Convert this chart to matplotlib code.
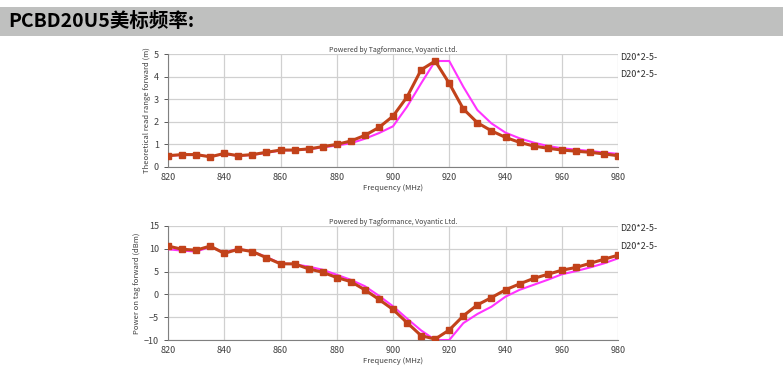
import numpy as np
import matplotlib.pyplot as plt

plt.rcParams['font.family'] = ['Noto Sans CJK SC', 'DejaVu Sans']

# === Data ===
freq = np.arange(820, 981, 5)

range_red = [0.5, 0.55, 0.55, 0.45, 0.6, 0.5, 0.55, 0.65, 0.75, 0.75, 0.8, 0.9, 1.0,
             1.15, 1.4, 1.75, 2.25, 3.1, 4.3, 4.69, 3.7, 2.57, 1.96, 1.6, 1.31, 1.09,
             0.93, 0.83, 0.75, 0.7, 0.65, 0.58, 0.5]
range_mag = [0.5, 0.53, 0.53, 0.47, 0.57, 0.5, 0.53, 0.63, 0.73, 0.75, 0.78, 0.87, 0.95,
             1.05, 1.25, 1.5, 1.8, 2.67, 3.7, 4.69, 4.69, 3.55, 2.52, 1.93, 1.52, 1.27,
             1.08, 0.93, 0.83, 0.77, 0.71, 0.64, 0.58]

power_red = [10.6, 9.9, 9.7, 10.6, 9.0, 9.9, 9.4, 8.05, 6.7, 6.7, 5.6, 4.85, 3.7,
             2.8, 1.0, -1.1, -3.3, -6.2, -9.05, -9.8, -7.8, -4.7, -2.3, -0.7, 1.0,
             2.3, 3.5, 4.4, 5.3, 5.9, 6.8, 7.7, 8.6]
power_mag = [9.9, 9.6, 9.4, 10.4, 9.2, 10.0, 9.4, 8.2, 6.8, 6.6, 6.1, 5.4, 4.3,
             3.2, 1.8, -0.3, -2.6, -5.3, -7.9, -10.0, -10.0, -6.3, -4.3, -2.7, -0.5,
             1.0, 2.1, 3.2, 4.4, 5.1, 5.9, 6.8, 7.9]

series_label = 'D20*2-5-'
credit = 'Powered by Tagformance, Voyantic Ltd.'
title = 'PCBD20U5美标频率:'

RED = '#c2421a'
MAG = '#ff33ff'

fig = plt.figure(figsize=(7.83, 3.91), dpi=100)

# gray title bar
fig.patches.append(plt.Rectangle((0, 1 - 36 / 391), 1.0, 29 / 391, transform=fig.transFigure,
                                 facecolor='#bfc0bf', edgecolor='none', zorder=0))
fig.text(8 / 783, 1 - 21 / 391, title, fontsize=14, fontweight='bold', va='center', ha='left')


def panel(rect, red, mag, ylim, yticks, ylabel, label_y):
    ax = fig.add_axes(rect)
    ax.plot(freq, mag, color=MAG, lw=1.5, zorder=3)
    ax.plot(freq, red, color=RED, lw=2.2, marker='s', ms=3.8, zorder=4)
    ax.set_xlim(820, 980)
    ax.set_ylim(*ylim)
    ax.set_xticks(np.arange(820, 981, 20))
    ax.set_yticks(yticks)
    ax.grid(True, color='#d0d0d0', lw=0.9)
    ax.set_axisbelow(True)
    for s in ['top', 'right']:
        ax.spines[s].set_visible(False)
    ax.spines['left'].set_color('#808080')
    ax.spines['bottom'].set_color('#808080')
    ax.tick_params(axis='both', labelsize=6.5, colors='#404040', length=3, width=0.6)
    ax.tick_params(axis='x', length=0, pad=4)
    ax.set_xlabel('Frequency (MHz)', fontsize=5.5, color='#404040', labelpad=2)
    ax.set_ylabel(ylabel, fontsize=5.5, color='#404040', labelpad=2)
    ax.set_title(credit, fontsize=5, color='#404040', pad=1)
    for yy in label_y:
        ax.text(1.004, yy, series_label, transform=ax.transAxes, fontsize=6.5, color='#303030',
                va='center', ha='left')
    return ax


panel([168 / 783, 1 - 167 / 391, 450 / 783, 113 / 391], range_red, range_mag,
      (0, 5), [0, 1, 2, 3, 4, 5], 'Theoretical read range forward (m)', [0.965, 0.815])
panel([168 / 783, 1 - 340 / 391, 450 / 783, 114 / 391], power_red, power_mag,
      (-10, 15), [-10, -5, 0, 5, 10, 15], 'Power on tag forward (dBm)', [0.974, 0.816])

fig.savefig('out.png', dpi=100)
